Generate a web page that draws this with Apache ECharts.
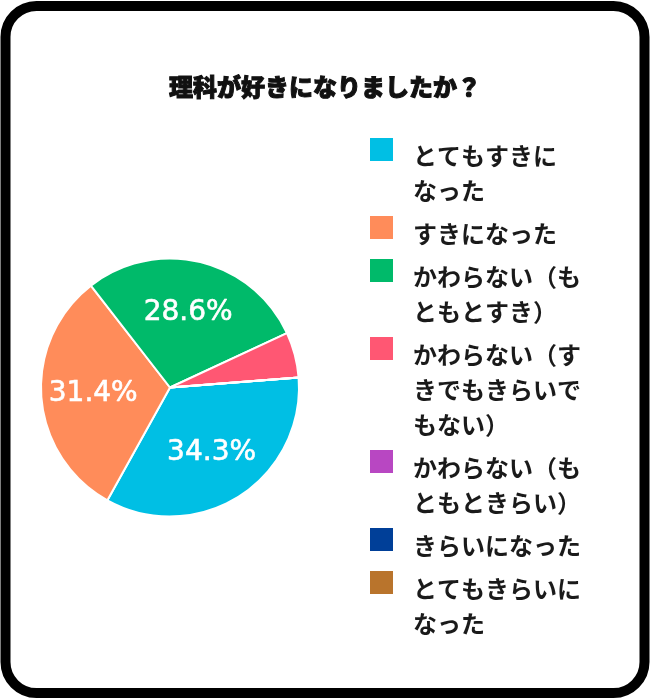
<!DOCTYPE html>
<html>
<head>
<meta charset="utf-8">
<script src="https://cdn.jsdelivr.net/npm/echarts@6/dist/echarts.min.js"></script>
<style>
  html, body { margin: 0; padding: 0; background: #fff; }
  #chart { width: 650px; height: 699px; }
</style>
</head>
<body>
<div id="chart"></div>
<script>
document.addEventListener('DOMContentLoaded', function () {
  // answers, counts and colours
  var titleText = '理科が好きになりましたか？';
  var names = ['とてもすきになった', 'すきになった', 'かわらない（もともとすき）',
    'かわらない（すきでもきらいでもない）', 'かわらない（もともときらい）',
    'きらいになった', 'とてもきらいになった'];
  var legendLabels = ['とてもすきに\nなった', 'すきになった', 'かわらない（も\nともとすき）',
    'かわらない（す\nきでもきらいで\nもない）', 'かわらない（も\nともときらい）',
    'きらいになった', 'とてもきらいに\nなった'];
  var counts = [12, 11, 10, 2, 0, 0, 0];
  var colors = ['#00bfe4', '#ff8c5a', '#00ba6a', '#ff5773', '#b847c2', '#003f98', '#b9742c'];

  var jp = '"Noto Sans CJK JP", sans-serif';
  var chart = echarts.init(document.getElementById('chart'));

  var pieData = names.map(function (n, i) { return { name: n, value: counts[i] }; });
  var center = [170, 387.5];

  // one legend per item so the icon sits by the first line of text
  var lineH = 35, gap = 8, top = 138;
  var legends = [];
  names.forEach(function (name, i) {
    var h = legendLabels[i].split('\n').length * lineH;
    legends.push({
      data: [name],
      left: 370,
      top: top,
      padding: 0,
      selectedMode: false,
      itemWidth: 38,
      itemHeight: h,
      icon: 'path://M0,0H23V23H0Z M38,' + h + 'L38,' + h,
      itemStyle: { borderWidth: 0 },
      formatter: function () { return legendLabels[i]; },
      textStyle: { fontSize: 24, lineHeight: lineH, fontFamily: jp, fontWeight: 'bold', color: '#1a1a1a' }
    });
    top += h + gap;
  });

  var option = {
    animation: false,
    color: colors,
    graphic: [{
      type: 'rect',
      z: -10,
      shape: { x: 5.5, y: 6, width: 639, height: 687, r: 31 },
      style: { fill: '#fff', stroke: '#000', lineWidth: 10 }
    }],
    title: {
      text: titleText,
      left: 'center',
      top: 70,
      textStyle: {
        fontSize: 24, fontFamily: jp, fontWeight: 900, color: '#111',
        textBorderColor: '#111', textBorderWidth: 1
      }
    },
    legend: legends,
    series: [{
      type: 'pie',
      center: center,
      radius: 129,
      startAngle: 4.4,
      data: pieData,
      itemStyle: { borderColor: '#fff', borderWidth: 2 },
      label: { show: false },
      labelLine: { show: false },
      emphasis: { disabled: true }
    }, {
      // transparent copy that only carries the percent labels a bit further out
      type: 'pie',
      center: center,
      radius: 148,
      startAngle: 4.4,
      silent: true,
      data: pieData,
      itemStyle: { color: 'transparent', borderWidth: 0 },
      label: {
        position: 'inside',
        color: '#fff',
        fontSize: 28,
        fontFamily: '"DejaVu Sans", sans-serif',
        textBorderColor: '#fff',
        textBorderWidth: 0.6,
        formatter: function (p) { return p.percent >= 10 ? p.percent.toFixed(1) + '%' : ''; }
      },
      labelLine: { show: false },
      emphasis: { disabled: true }
    }]
  };
  chart.setOption(option);
});
</script>
</body>
</html>
